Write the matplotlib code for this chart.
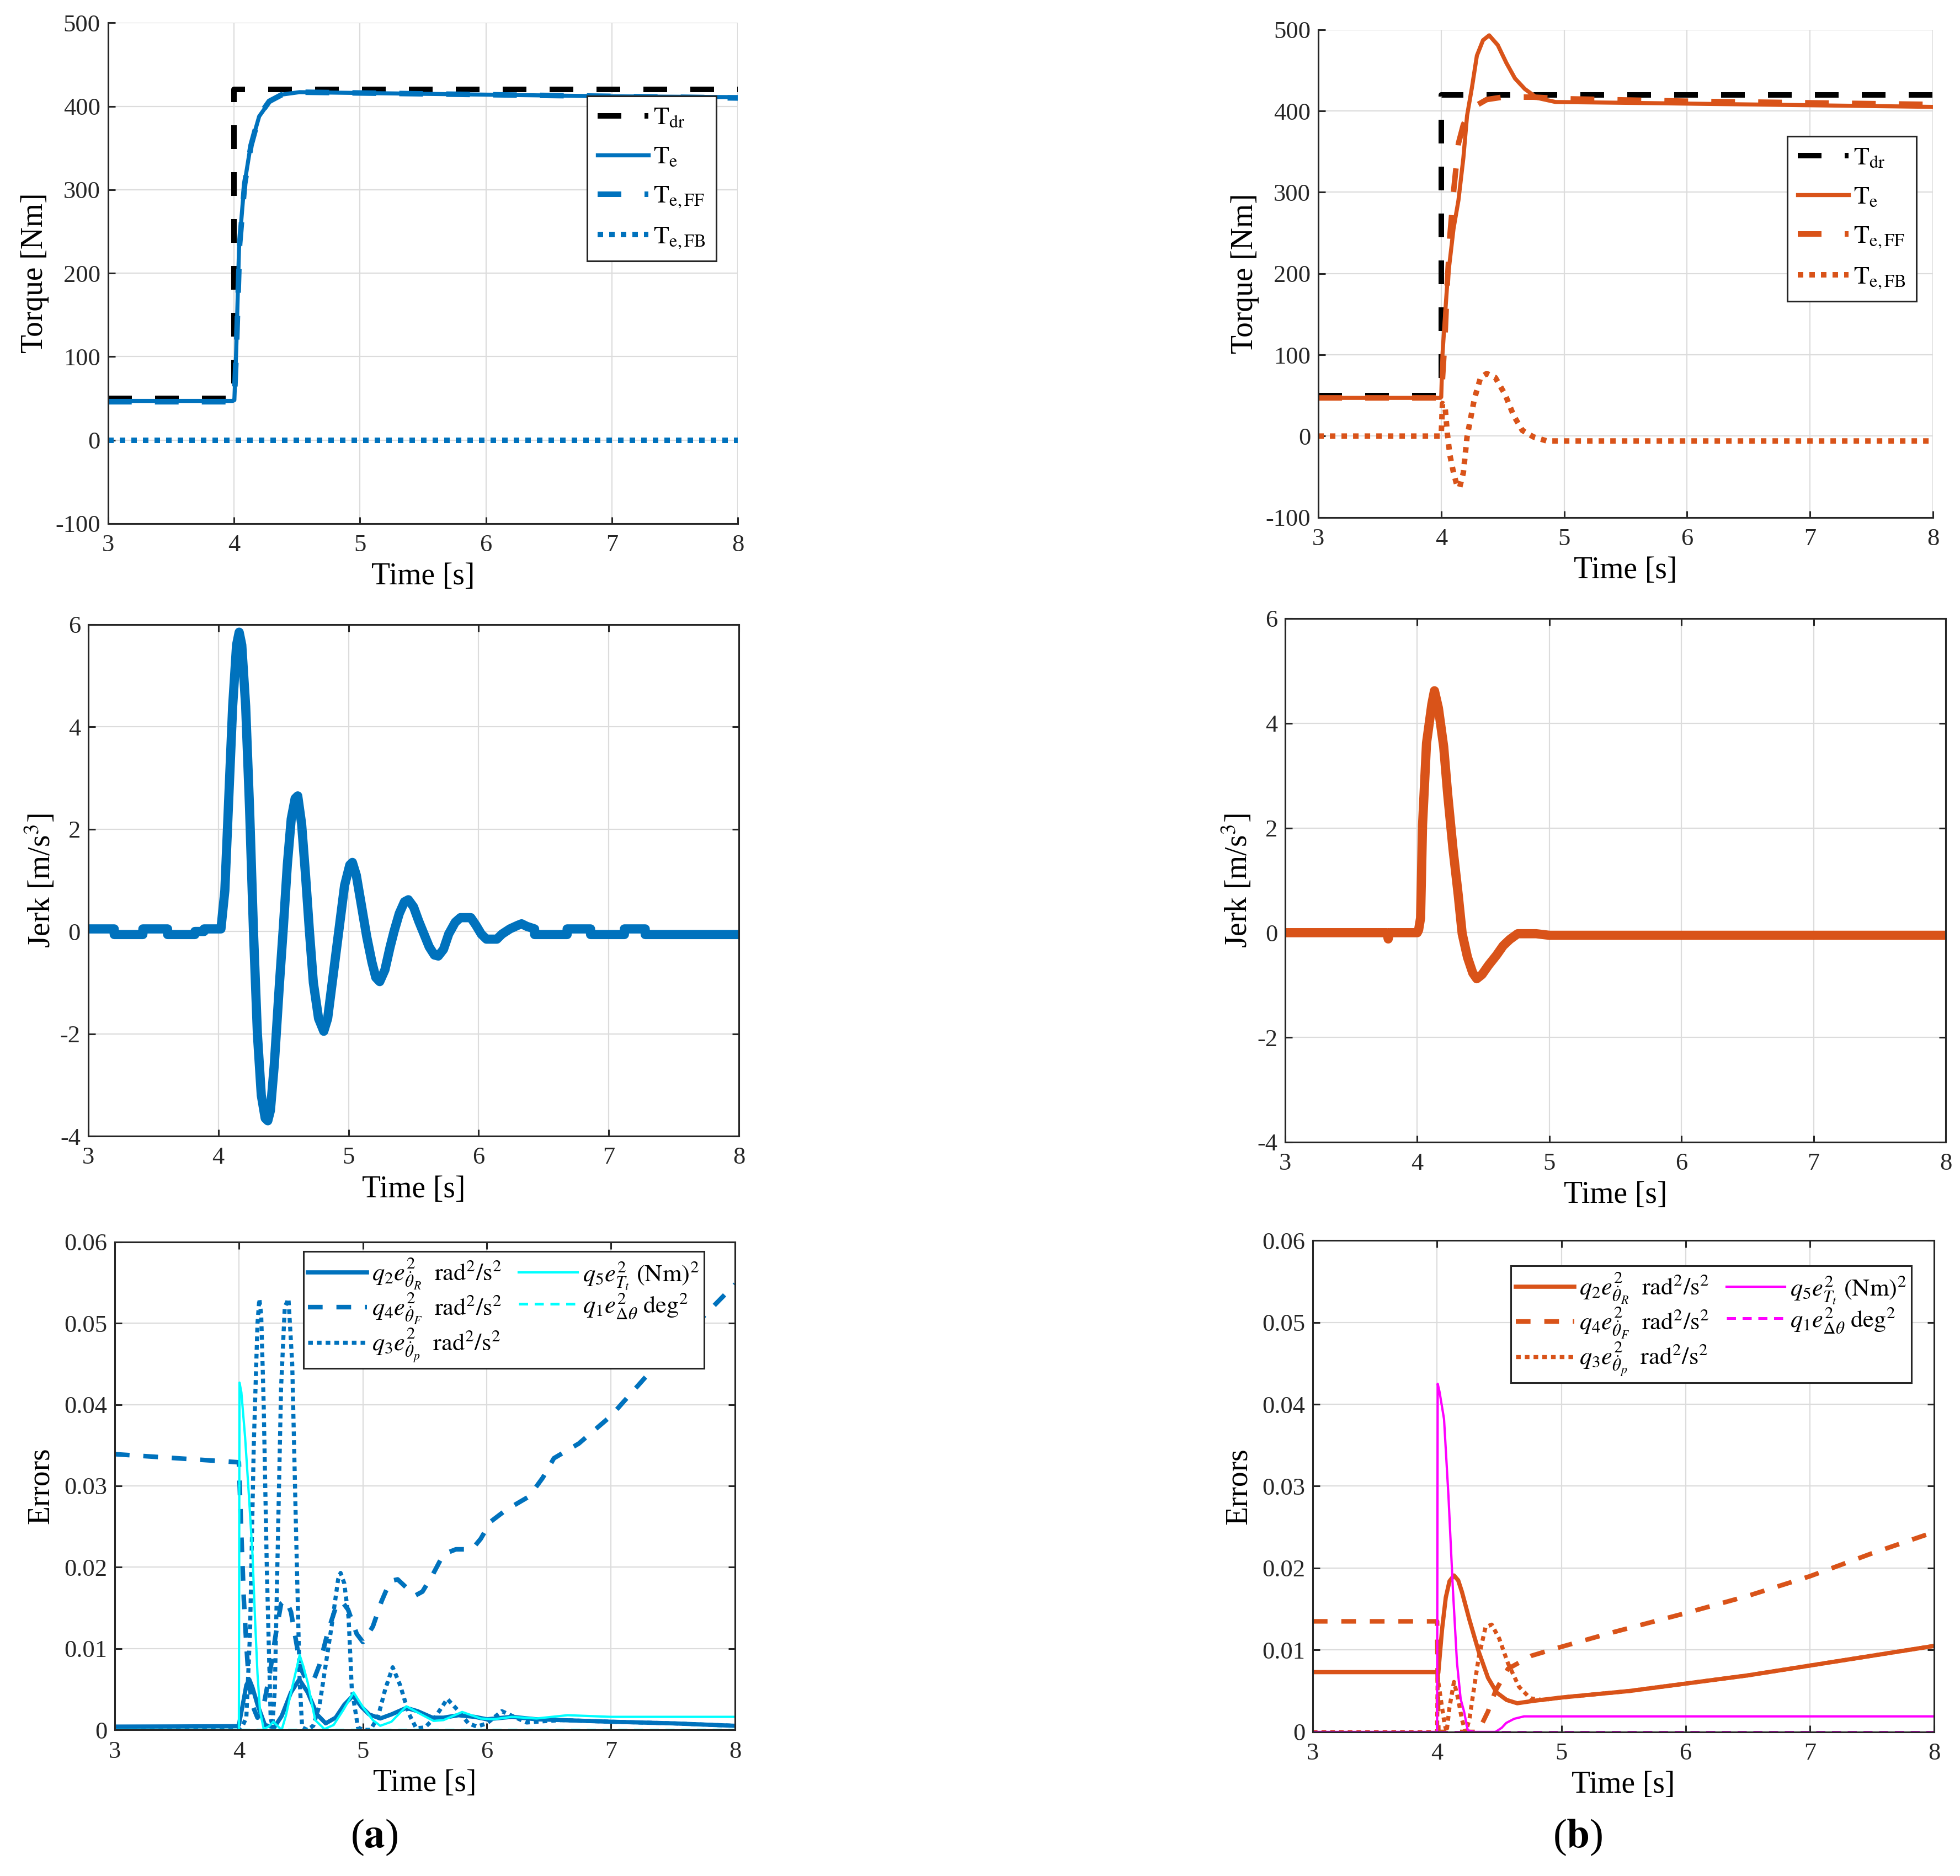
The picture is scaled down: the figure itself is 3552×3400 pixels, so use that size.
import numpy as np
import matplotlib
matplotlib.use('Agg')
import matplotlib.pyplot as plt
from matplotlib.ticker import FuncFormatter

plt.rcParams['font.family'] = ['Liberation Serif', 'DejaVu Serif']
plt.rcParams['mathtext.fontset'] = 'stix'
plt.rcParams['axes.unicode_minus'] = False

BLUE = '#0072BD'
ORANGE = '#D95319'
CYAN = '#00FFFF'
MAGENTA = '#FF00FF'

# ---- torque (top row) ----
t_dr = [3.0, 4.0, 4.0, 8.0]
T_dr = [50, 50, 420, 420]

# left: without feedback
t_te_a = [3.0, 3.5, 3.99, 4.003, 4.018, 4.04, 4.08, 4.13, 4.2, 4.28, 4.375, 4.52, 5.0, 6.0, 7.0, 8.0]
Te_a = [47, 47, 47, 48, 109, 230, 304, 351, 388, 405, 414, 417, 416, 414, 412, 411]
t_ff_a = [3.0, 3.5, 3.99, 4.003, 4.02, 4.045, 4.085, 4.135, 4.2, 4.28, 4.38, 4.52, 5.0, 6.0, 7.0, 8.0]
Tff_a = [46, 46, 46, 48, 112, 235, 307, 353, 389, 406, 414, 417, 416, 414, 412, 410]
t_fb_a = [3.0, 8.0]
Tfb_a = [0, 0]

# right: with feedback
t_te_b = [3.0, 3.99, 4.0, 4.01, 4.03, 4.05, 4.07, 4.10, 4.14, 4.18, 4.21, 4.25, 4.29, 4.34, 4.39,
          4.46, 4.53, 4.60, 4.68, 4.78, 4.93, 5.5, 6.5, 8.0]
Te_b = [47, 47, 48, 100, 146, 190, 216, 255, 290, 342, 394, 429, 468, 487, 493,
        481, 459, 440, 427, 416, 411, 410, 408, 405]
t_ff_b = [3.0, 3.99, 4.0, 4.01, 4.03, 4.05, 4.07, 4.10, 4.14, 4.18, 4.23, 4.3, 4.37, 4.5, 4.75, 5.0, 6.0, 7.0, 8.0]
Tff_b = [47, 47, 50, 70, 120, 190, 245, 300, 360, 383, 398, 408, 414, 417, 417, 415, 412, 410, 408]
t_fb_b = [3.0, 3.99, 4.0, 4.01, 4.03, 4.05, 4.07, 4.10, 4.13, 4.15, 4.18, 4.21, 4.27, 4.32, 4.37,
          4.44, 4.52, 4.59, 4.66, 4.75, 4.86, 5.0, 8.0]
Tfb_b = [0, 0, 1, 40, 38, 3, -23, -45, -62, -63, -45, -1, 46, 72, 77,
         72, 51, 25, 7, -1, -6, -6, -6]

# ---- jerk (middle row) ----
t_jerk_a = [3.0, 3.2, 3.2, 3.42, 3.42, 3.61, 3.61, 3.82, 3.82, 3.89, 3.89,
            4.02, 4.05, 4.08, 4.11, 4.14, 4.16, 4.18, 4.21, 4.24, 4.27, 4.30, 4.33, 4.36, 4.38,
            4.40, 4.43, 4.47, 4.50, 4.53, 4.56, 4.59, 4.61, 4.64, 4.67, 4.70, 4.73, 4.77, 4.81,
            4.84, 4.88, 4.93, 4.97, 5.01, 5.03, 5.06, 5.10, 5.14, 5.18, 5.21, 5.24, 5.28, 5.32,
            5.35, 5.39, 5.43, 5.46, 5.50, 5.54, 5.58, 5.62, 5.66, 5.69, 5.73, 5.77, 5.82, 5.86,
            5.94, 5.98, 6.02, 6.06, 6.14, 6.18, 6.24, 6.30, 6.33, 6.37, 6.43, 6.43,
            6.68, 6.68, 6.86, 6.86, 7.12, 7.12, 7.28, 7.28, 8.0]
jerk_a = [0.05, 0.05, -0.06, -0.06, 0.05, 0.05, -0.06, -0.06, 0.0, 0.0, 0.05,
          0.05, 0.8, 2.6, 4.4, 5.6, 5.85, 5.6, 4.4, 2.4, 0.0, -2.0, -3.2, -3.65, -3.7,
          -3.5, -2.6, -1.0, 0.1, 1.3, 2.2, 2.6, 2.65, 2.1, 1.1, 0.0, -1.0, -1.7, -1.95,
          -1.7, -0.9, 0.1, 0.9, 1.3, 1.35, 1.1, 0.5, -0.1, -0.6, -0.9, -0.98, -0.75, -0.3,
          0.0, 0.35, 0.58, 0.62, 0.48, 0.2, -0.05, -0.3, -0.46, -0.48, -0.35, -0.05, 0.18, 0.27,
          0.27, 0.12, -0.05, -0.15, -0.15, -0.05, 0.05, 0.12, 0.15, 0.1, 0.05, -0.06,
          -0.06, 0.05, 0.05, -0.06, -0.06, 0.05, 0.05, -0.06, -0.06]

t_jerk_b = [3.0, 3.77, 3.78, 3.79, 4.0, 4.01, 4.025, 4.04, 4.07, 4.11, 4.13, 4.16, 4.20, 4.23,
            4.27, 4.31, 4.34, 4.38, 4.42, 4.45, 4.49, 4.54, 4.60, 4.65, 4.70, 4.76, 4.9, 5.0, 8.0]
jerk_b = [0, 0, -0.12, 0, 0, 0.05, 0.28, 2.06, 3.62, 4.36, 4.62, 4.29, 3.55, 2.65,
          1.61, 0.72, -0.02, -0.47, -0.77, -0.88, -0.80, -0.62, -0.43, -0.25, -0.13, -0.02, -0.02, -0.05, -0.05]

# ---- weighted errors (bottom row), left ----
t_q2_a = [3.0, 3.5, 3.99, 4.0, 4.03, 4.06, 4.084, 4.11, 4.15, 4.21, 4.285, 4.345, 4.42, 4.487,
          4.555, 4.63, 4.70, 4.78, 4.85, 4.92, 4.99, 5.05, 5.14, 5.23, 5.35, 5.44, 5.56, 5.65,
          5.77, 5.9, 6.0, 6.2, 6.4, 6.6, 7.0, 7.5, 8.0]
q2_a = [0.0004, 0.00042, 0.00045, 0.0006, 0.003, 0.0055, 0.0062, 0.0052, 0.0031, 0.0006, 0.0003,
        0.0017, 0.0046, 0.0062, 0.0046, 0.0019, 0.0008, 0.0015, 0.0031, 0.0042, 0.0028, 0.0019,
        0.0014, 0.0019, 0.0027, 0.0023, 0.0015, 0.0015, 0.0018, 0.0016, 0.0013, 0.0016, 0.0013,
        0.0012, 0.001, 0.0008, 0.0005]
t_q4_a = [3.0, 4.0, 4.02, 4.04, 4.06, 4.08, 4.11, 4.15, 4.2, 4.25, 4.3, 4.34, 4.38, 4.42, 4.46,
          4.5, 4.55, 4.6, 4.65, 4.72, 4.78, 4.83, 4.88, 4.95, 5.0, 5.08, 5.15, 5.22, 5.28, 5.35,
          5.42, 5.48, 5.56, 5.65, 5.75, 5.88, 5.95, 6.03, 6.15, 6.34, 6.45, 6.54, 6.74, 7.0,
          7.35, 7.66, 8.0]
q4_a = [0.0339, 0.0329, 0.024, 0.016, 0.0105, 0.006, 0.003, 0.0015, 0.003, 0.007, 0.012, 0.0155,
        0.016, 0.0145, 0.011, 0.0075, 0.006, 0.006, 0.008, 0.0122, 0.015, 0.0158, 0.0148, 0.0118,
        0.0108, 0.0127, 0.0158, 0.0183, 0.0185, 0.0175, 0.0165, 0.017, 0.019, 0.0216, 0.0222,
        0.0222, 0.0235, 0.0256, 0.027, 0.0287, 0.031, 0.0334, 0.0352, 0.0386, 0.0446, 0.0495, 0.0548]
t_q3_a = [3.0, 4.0, 4.03, 4.06, 4.09, 4.12, 4.15, 4.165, 4.18, 4.2, 4.225, 4.256, 4.27, 4.29, 4.31,
          4.34, 4.37, 4.40, 4.43, 4.46, 4.49, 4.51, 4.55, 4.6, 4.65, 4.7, 4.75, 4.8, 4.82, 4.85,
          4.885, 4.91, 4.96, 5.0, 5.06, 5.12, 5.18, 5.24, 5.3, 5.37, 5.43, 5.5, 5.58, 5.68, 5.76,
          5.85, 5.92, 6.0, 6.12, 6.22, 6.32, 6.4, 6.6, 7.0, 7.5, 8.0]
q3_a = [0.0, 0.0, 0.0005, 0.0015, 0.012, 0.035, 0.05, 0.053, 0.051, 0.04, 0.02, 0.0015, 0.0005,
        0.005, 0.02, 0.042, 0.052, 0.053, 0.045, 0.025, 0.006, 0.0003, 0.0, 0.0005, 0.003, 0.008,
        0.013, 0.0185, 0.0193, 0.018, 0.0137, 0.0051, 0.0003, 0.0, 0.0, 0.0015, 0.005, 0.0077,
        0.0055, 0.002, 0.0002, 0.0003, 0.0015, 0.0038, 0.0025, 0.0008, 0.0004, 0.0008, 0.0023,
        0.0016, 0.0009, 0.001, 0.0012, 0.001, 0.0008, 0.0005]
t_q5_a = [3.0, 4.0, 4.005, 4.02, 4.05, 4.08, 4.11, 4.13, 4.15, 4.17, 4.2, 4.24, 4.278, 4.31, 4.345,
          4.38, 4.42, 4.49, 4.52, 4.555, 4.615, 4.69, 4.764, 4.84, 4.925, 5.0, 5.08, 5.14, 5.23,
          5.35, 5.47, 5.57, 5.65, 5.8, 5.95, 6.05, 6.2, 6.4, 6.65, 7.0, 8.0]
q5_a = [0.0, 0.0, 0.0427, 0.0415, 0.036, 0.029, 0.0215, 0.0137, 0.0069, 0.0024, 0.0001, 0.0004,
        0.001, 0.0005, 0.0, 0.0018, 0.0046, 0.0092, 0.0078, 0.0058, 0.0012, 0.0001, 0.0006,
        0.0024, 0.0046, 0.0028, 0.0012, 0.0005, 0.001, 0.0029, 0.0019, 0.0011, 0.0012, 0.0022,
        0.0014, 0.0013, 0.0016, 0.0014, 0.0018, 0.0016, 0.0016]
t_q1 = [3.0, 8.0]
q1 = [0.0, 0.0]

# ---- weighted errors (bottom row), right ----
t_q2_b = [3.0, 4.0, 4.01, 4.02, 4.04, 4.07, 4.10, 4.136, 4.17, 4.20, 4.26, 4.335, 4.41, 4.48,
          4.56, 4.645, 4.78, 5.0, 5.55, 6.0, 6.5, 7.0, 7.5, 8.0]
q2_b = [0.0073, 0.0073, 0.0072, 0.009, 0.0125, 0.0164, 0.0184, 0.0191, 0.0185, 0.0171, 0.0137,
        0.0098, 0.0066, 0.0048, 0.0039, 0.0035, 0.0038, 0.0042, 0.005, 0.0059, 0.0069, 0.0081,
        0.0093, 0.0105]
t_q4_b = [3.0, 4.0, 4.01, 4.33, 4.365, 4.41, 4.47, 4.57, 4.76, 4.98, 5.4, 6.0, 6.5, 7.0, 7.5, 8.0]
q4_b = [0.0135, 0.0135, 0.0, 0.0, 0.0011, 0.0025, 0.005, 0.0077, 0.0093, 0.0103, 0.0121, 0.0145,
        0.0166, 0.019, 0.0218, 0.0244]
t_q3_b = [3.0, 4.0, 4.005, 4.03, 4.06, 4.077, 4.1, 4.136, 4.17, 4.2, 4.23, 4.26, 4.29, 4.335,
          4.39, 4.44, 4.50, 4.57, 4.66, 4.75, 4.85, 5.0, 5.55, 6.0, 6.5, 7.0, 7.5, 8.0]
q3_b = [0.0, 0.0, 0.0066, 0.004, 0.001, 0.0, 0.003, 0.0061, 0.004, 0.0015, 0.0, 0.0015, 0.0046,
        0.0091, 0.0128, 0.0131, 0.0114, 0.0084, 0.0055, 0.0041, 0.0039, 0.0042, 0.005, 0.0059,
        0.0069, 0.0081, 0.0093, 0.0105]
t_q5_b = [3.0, 4.0, 4.005, 4.02, 4.056, 4.092, 4.127, 4.16, 4.19, 4.217, 4.247, 4.3, 4.47, 4.52,
          4.557, 4.62, 4.7, 4.78, 8.0]
q5_b = [0.0, 0.0, 0.0425, 0.0415, 0.0382, 0.0287, 0.0175, 0.0085, 0.004, 0.0025, 0.0002, 0.0,
        0.0, 0.0005, 0.0011, 0.0016, 0.0019, 0.0019, 0.0019]

err_labels = [r'$q_2e^2_{\dot{\theta}_R}\ \ \mathrm{rad}^2/\mathrm{s}^2$',
              r'$q_4e^2_{\dot{\theta}_F}\ \ \mathrm{rad}^2/\mathrm{s}^2$',
              r'$q_3e^2_{\dot{\theta}_p}\ \ \mathrm{rad}^2/\mathrm{s}^2$',
              r'$q_5e^2_{T_t}\ (\mathrm{Nm})^2$',
              r'$q_1e^2_{\Delta\theta}\ \mathrm{deg}^2$']
torque_labels = [r'$\mathrm{T_{dr}}$', r'$\mathrm{T_e}$', r'$\mathrm{T_{e,FF}}$', r'$\mathrm{T_{e,FB}}$']

DASH_BIG = (4.3, 4.2)
DOT = (1, 1.1)

fig = plt.figure(figsize=(35.52, 34), dpi=100)


def style(ax, ylim, yticks, box=True):
    ax.set_xlim(3, 8)
    ax.set_ylim(*ylim)
    ax.set_xticks(range(3, 9))
    ax.set_yticks(yticks)
    ax.grid(True, color='#DCDCDC', linewidth=1.6)
    ax.set_axisbelow(True)
    ax.tick_params(direction='in', length=9, width=2.2, labelsize=32, top=box, right=box,
                   colors='#262626')
    ax.tick_params(axis='x', pad=14)
    ax.tick_params(axis='y', pad=10)
    for s in ax.spines.values():
        s.set_linewidth(2.2)
        s.set_color('#262626')
    if not box:
        ax.spines['top'].set_visible(False)
        ax.spines['right'].set_visible(False)
    ax.set_xlabel('Time [s]', fontsize=40, labelpad=8)
    ax.yaxis.set_major_formatter(FuncFormatter(lambda v, p: '%g' % v))


def add_legend(ax, handles, labels, anchor, size, hl, ncol=1, spacing=0.35, bpad=0.35):
    lg = ax.legend(handles, labels, loc='upper right', bbox_to_anchor=anchor, fontsize=size,
                   handlelength=hl, ncol=ncol, fancybox=False, framealpha=1,
                   edgecolor='#262626', borderaxespad=0, columnspacing=0.7,
                   handletextpad=0.2, labelspacing=spacing, borderpad=bpad)
    lg.get_frame().set_linewidth(2.2)


def torque_panel(rect, color, t_te, te, t_ff, tff, t_fb, tfb, anchor):
    ax = fig.add_axes(rect)
    h = []
    h += ax.plot(t_dr, T_dr, color='black', lw=7.2, dashes=DASH_BIG)
    h += ax.plot(t_te, te, '-', color=color, lw=5.3)
    h += ax.plot(t_ff, tff, color=color, lw=7.2, dashes=DASH_BIG)
    h += ax.plot(t_fb, tfb, color=color, lw=7.2, dashes=DOT)
    style(ax, (-100, 500), range(-100, 501, 100), box=False)
    ax.set_ylabel('Torque [Nm]', fontsize=40, labelpad=8)
    add_legend(ax, h, torque_labels, anchor, 33, 2.0, spacing=0.62, bpad=0.42)
    return ax


def jerk_panel(rect, t, j, color):
    ax = fig.add_axes(rect)
    ax.plot(t, j, '-', color=color, lw=12, solid_joinstyle='round', solid_capstyle='round')
    style(ax, (-4, 6), range(-4, 7, 2))
    ax.set_ylabel(r'Jerk [m/s$^3$]', fontsize=40, labelpad=4)
    return ax


def error_panel(rect, color, thin, t2, y2, t4, y4, t3, y3, t5, y5, anchor):
    ax = fig.add_axes(rect)
    h2, = ax.plot(t2, y2, '-', color=color, lw=5.5)
    h4, = ax.plot(t4, y4, color=color, lw=6, dashes=(3.2, 3.0))
    h3, = ax.plot(t3, y3, color=color, lw=5.3, dashes=(1.15, 1.0))
    h5, = ax.plot(t5, y5, '-', color=thin, lw=3.0)
    h1, = ax.plot(t_q1, q1, color=thin, lw=3.6, dashes=(3.3, 2.4))
    style(ax, (0, 0.06), np.arange(0, 0.0601, 0.01))
    ax.set_ylabel('Errors', fontsize=40, labelpad=12)
    add_legend(ax, [h2, h4, h3, h5, h1], err_labels, anchor, 32, 2.4, ncol=2, spacing=0.0,
               bpad=0.2)
    return ax


torque_panel([0.0551, 0.7209, 0.3214, 0.2669], BLUE, t_te_a, Te_a, t_ff_a, Tff_a,
             t_fb_a, Tfb_a, (0.9656, 0.854))
torque_panel([0.6726, 0.7242, 0.3136, 0.2600], ORANGE, t_te_b, Te_b, t_ff_b, Tff_b,
             t_fb_b, Tfb_b, (0.973, 0.7817))

jerk_panel([0.045, 0.3944, 0.332, 0.2727], t_jerk_a, jerk_a, BLUE)
jerk_panel([0.6557, 0.3912, 0.337, 0.2791], t_jerk_b, jerk_b, ORANGE)

error_panel([0.0586, 0.0779, 0.3164, 0.2601], BLUE, CYAN, t_q2_a, q2_a, t_q4_a, q4_a,
            t_q3_a, q3_a, t_q5_a, q5_a, (0.950, 0.981))
error_panel([0.6698, 0.0768, 0.3170, 0.2620], ORANGE, MAGENTA, t_q2_b, q2_b, t_q4_b, q4_b,
            t_q3_b, q3_b, t_q5_b, q5_b, (0.9636, 0.949))

fig.text(0.191, 0.0206, r'($\mathbf{a}$)', fontsize=54, ha='center', va='center')
fig.text(0.805, 0.0206, r'($\mathbf{b}$)', fontsize=54, ha='center', va='center')

fig.savefig('out.png', dpi=100)
